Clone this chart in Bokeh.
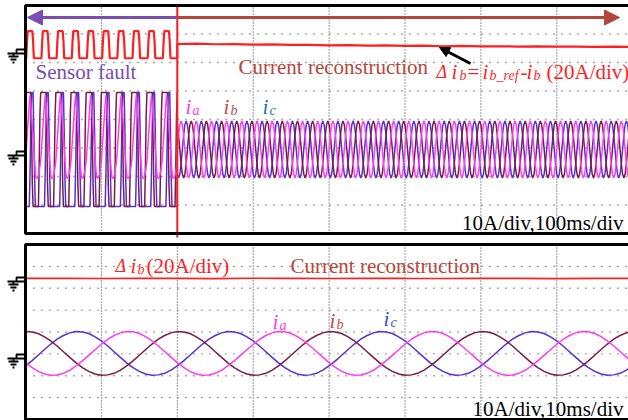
import numpy as np
from bokeh.plotting import figure
from bokeh.layouts import column
from bokeh.models import Range1d, Label, Arrow, NormalHead
from bokeh.embed import file_html
from bokeh.resources import INLINE

# ---------------- data ----------------
# top panel: 100 ms/div, currents 10 A/div, delta-ib 20 A/div
top_fault_ms = 200
top_cycle_ms = 20
# one cycle before the fault, 1 ms steps starting at t = 0 (A)
pre_ia_cycle = [-4, 0, 4, 8, 12, 16, 19, 16, 12, 8, 4, 0, -4, -8, -10, -10, -10, -9, -8, -6]
pre_ib_cycle = [20, 20, 20, 20, 20, 20, 20, 20, 6, -12, -20, -20, -20, -20, -20, -20, -20, -20, -6, 12]
pre_ic_cycle = [-20, -20, -20, -20, -20, -20, -8, 8, 20, 20, 20, 6, -10, -20, -20, -20, -20, -20, -20, -20]
pre_dib_cycle = [-4, -4, 8, 15, 15, 15, 15, 15, 15, 15, 8, -4, -4, -4, -4, -4, -4, -4, -4, -4]
# one cycle after the fault, 20/12 ms steps (A)
post_ia_cycle = [0, 5, 8.7, 10, 8.7, 5, 0, -5, -8.7, -10, -8.7, -5]
post_ib_cycle = [8.7, 5, 0, -5, -8.7, -10, -8.7, -5, 0, 5, 8.7, 10]
post_ic_cycle = [-8.7, -10, -8.7, -5, 0, 5, 8.7, 10, 8.7, 5, 0, -5]
# delta-ib after the fault (A), every 25 ms from 200 ms
post_dib_t = [200, 225, 250, 275, 300, 325, 350, 375, 400, 425, 450, 475, 500, 525,
              550, 575, 600, 625, 650, 675, 700, 725, 750, 775, 800]
post_dib = [6.0, 6.2, 5.8, 5.9, 5.5, 5.7, 5.3, 5.4, 5.0, 5.2, 4.8, 5.0, 4.6, 4.8,
            4.4, 4.6, 4.3, 4.4, 4.2, 4.3, 4.1, 4.2, 4.0, 4.1, 4.0]

# bottom panel: 10 ms/div, 15 deg samples starting at t = 0 (A)
bot_cycle_ms = 20
bot_ia_cycle = [-4.2, -6.4, -8.2, -9.4, -10.0, -9.9, -9.1, -7.7, -5.7, -3.4, -0.9, 1.7,
                4.2, 6.4, 8.2, 9.4, 10.0, 9.9, 9.1, 7.7, 5.7, 3.4, 0.9, -1.7]
bot_ib_cycle = [10.0, 9.8, 9.1, 7.6, 5.7, 3.4, 0.8, -1.8, -4.3, -6.5, -8.2, -9.4,
                -10.0, -9.8, -9.1, -7.6, -5.7, -3.4, -0.8, 1.8, 4.3, 6.5, 8.2, 9.4]
bot_ic_cycle = [-5.7, -3.4, -0.8, 1.8, 4.3, 6.5, 8.2, 9.4, 10.0, 9.8, 9.1, 7.6,
                5.7, 3.4, 0.8, -1.8, -4.3, -6.5, -8.2, -9.4, -10.0, -9.8, -9.1, -7.6]
bot_dib_t = [0, 5, 10, 15, 20, 25, 30, 35, 40, 45, 50, 55, 60, 65, 70, 75, 80]
bot_dib = [6.0, 6.2, 5.9, 6.1, 6.0, 5.8, 6.1, 6.0, 5.9, 6.2, 6.0, 5.9, 6.1, 6.0, 5.8, 6.0, 6.0]

# channel zero levels (div) and scales (A/div)
top_cur_zero, top_dib_zero = -1.05, 2.35
bot_cur_zero, bot_dib_zero = -0.98, 2.15
cur_scale, dib_scale = 10.0, 20.0

# ---------------- styling ----------------
C_A, C_B, C_C = "#ff3cf0", "#7a1c44", "#5530d8"
C_RED, C_BROWN, C_PURPLE = "#ff1f1f", "#b5473a", "#7a4cb4"
FONT = "Liberation Serif"

X0 = 25.0          # page px of t = 0
PX_DIV = 75.9      # px per time division
PAGE_W = 628
LABEL_DY = -6      # baseline correction for labels (px)


def make_panel(height, ms_div, top_px, bot_px, fig_top):
    px_ms = PX_DIV / ms_div
    div_px = (bot_px - top_px) / 8.0
    def px2x(px):
        return (px - X0) / px_ms
    def py2y(py):
        return 4 - (py - top_px) / div_px
    p = figure(width=PAGE_W, height=height, output_backend="svg", toolbar_location=None,
               x_range=Range1d(px2x(0), px2x(PAGE_W)),
               y_range=Range1d(py2y(fig_top + height), py2y(fig_top)),
               min_border=0, min_border_left=0, min_border_right=0,
               min_border_top=0, min_border_bottom=0)
    p.axis.visible = False
    p.grid.visible = False
    p.outline_line_color = None
    p.background_fill_color = "white"
    t_end = 8 * ms_div
    for k in range(1, 8):
        p.line([k * ms_div, k * ms_div], [-4, 4], line_color="#333333", line_width=1,
               line_dash="1 2")
    for k in range(-3, 4):
        p.line([0, t_end], [k, k], line_color="#555555", line_width=1.3, line_dash="1 7")
    return p, px2x, py2y


def ground(p, px2x, py2y, y0):
    xs_px = [[7, 25], [16, 16, 25], [13, 13], [8, 18], [10, 16], [12, 14]]
    ys_px = [[y0, y0], [y0, y0 - 4, y0 - 4], [y0, y0 + 3], [y0 + 3] * 2,
             [y0 + 6] * 2, [y0 + 9] * 2]
    xs = [[px2x(v) for v in seg] for seg in xs_px]
    ys = [[py2y(v) for v in seg] for seg in ys_px]
    p.multi_line(xs, ys, line_color="black", line_width=1.8)


def border(p, ms_div):
    t_end = 8 * ms_div
    p.line([t_end, 0, 0, t_end], [4, 4, -4, -4], line_color="black", line_width=3)


def label(p, conv, px, py, text, color, size=21, style="normal", align="left"):
    px2x, py2y = conv
    p.add_layout(Label(x=px2x(px), y=py2y(py + LABEL_DY), text=text, text_color=color,
                       text_font=FONT, text_font_size=f"{size}px", text_font_style=style,
                       text_baseline="alphabetic", text_align=align))


def tile(cycle, n):
    return np.concatenate([np.tile(cycle, n), [cycle[0]]])

# ---------------- top panel ----------------
top, tx, ty = make_panel(240, 100, 5.0, 233.0, 0)
T = (tx, ty)

n_pre = top_fault_ms // top_cycle_ms
t_pre = np.arange(n_pre * len(pre_ia_cycle) + 1) * (top_cycle_ms / len(pre_ia_cycle))
n_post = (800 - top_fault_ms) // top_cycle_ms
t_post = top_fault_ms + np.arange(n_post * len(post_ia_cycle) + 1) * (top_cycle_ms / len(post_ia_cycle))

for pre, post, col in [(pre_ic_cycle, post_ic_cycle, C_C), (pre_ib_cycle, post_ib_cycle, C_B),
                       (pre_ia_cycle, post_ia_cycle, C_A)]:
    t = np.concatenate([t_pre, t_post])
    v = np.concatenate([tile(pre, n_pre), tile(post, n_post)])
    top.line(t, top_cur_zero + v / cur_scale, line_color=col, line_width=1.5)

t_d = np.concatenate([t_pre, post_dib_t])
v_d = np.concatenate([tile(pre_dib_cycle, n_pre), post_dib])
top.line(t_d, top_dib_zero + v_d / dib_scale, line_color=C_RED, line_width=2.2)

top.line([top_fault_ms, top_fault_ms], [ty(237), 4], line_color=C_RED, line_width=2)
border(top, 100)
ground(top, tx, ty, 53)
ground(top, tx, ty, 155)

top.add_layout(Arrow(x_start=top_fault_ms, y_start=ty(17), x_end=tx(27), y_end=ty(17),
                     line_color=C_PURPLE, line_width=3,
                     end=NormalHead(size=15, fill_color=C_PURPLE, line_color=C_PURPLE)))
top.add_layout(Arrow(x_start=top_fault_ms, y_start=ty(17), x_end=tx(619), y_end=ty(17),
                     line_color=C_BROWN, line_width=3,
                     end=NormalHead(size=15, fill_color=C_BROWN, line_color=C_BROWN)))
top.add_layout(Arrow(x_start=tx(470), y_start=ty(63), x_end=tx(439), y_end=ty(47),
                     line_color="black", line_width=3,
                     end=NormalHead(size=10, fill_color="black", line_color="black")))

label(top, T, 35, 77, "Sensor fault", C_PURPLE)
label(top, T, 238, 72, "Current reconstruction", C_BROWN)
# delta ib formula
label(top, T, 436, 77, "\u0394", C_RED, 18, "italic")
label(top, T, 451, 77, "i", C_RED, 21, "italic")
label(top, T, 459, 81, "b", C_RED, 14, "italic")
label(top, T, 467, 77, "=", C_RED, 21)
label(top, T, 482, 77, "i", C_RED, 21, "italic")
label(top, T, 489, 81, "b_ref", C_RED, 14, "italic")
label(top, T, 520, 77, "-", C_RED, 21)
label(top, T, 526, 77, "i", C_RED, 21, "italic")
label(top, T, 533, 81, "b", C_RED, 14, "italic")
label(top, T, 546, 77, "(20A/div)", C_RED)
label(top, T, 185, 112, "i", C_A, 21, "italic")
label(top, T, 192, 116, "a", C_A, 14, "italic")
label(top, T, 223, 112, "i", "#c0504d", 21, "italic")
label(top, T, 230, 116, "b", "#c0504d", 14, "italic")
label(top, T, 262, 112, "i", "#1f6fc8", 21, "italic")
label(top, T, 269, 116, "c", "#1f6fc8", 14, "italic")
label(top, T, 623, 228, "10A/div,100ms/div", "black", 21, "normal", "right")

# ---------------- bottom panel ----------------
bot, bx, by = make_panel(180, 10, 244.0, 419.0, 240)
B = (bx, by)
n_bot = 80 // bot_cycle_ms
t_bot = np.arange(n_bot * len(bot_ia_cycle) + 1) * (bot_cycle_ms / len(bot_ia_cycle))
for cyc, col in [(bot_ic_cycle, C_C), (bot_ib_cycle, C_B), (bot_ia_cycle, C_A)]:
    bot.line(t_bot, bot_cur_zero + tile(cyc, n_bot) / cur_scale, line_color=col, line_width=1.5)
bot.line(bot_dib_t, bot_dib_zero + np.array(bot_dib) / dib_scale, line_color=C_RED, line_width=1.6)
border(bot, 10)
ground(bot, bx, by, 281)
ground(bot, bx, by, 358)

label(bot, B, 115, 271, "\u0394", C_RED, 18, "italic")
label(bot, B, 130, 271, "i", C_RED, 21, "italic")
label(bot, B, 137, 275, "b", C_RED, 14, "italic")
label(bot, B, 146, 271, "(20A/div)", C_RED)
label(bot, B, 290, 271, "Current reconstruction", C_BROWN)
label(bot, B, 272, 327, "i", C_A, 21, "italic")
label(bot, B, 279, 331, "a", C_A, 14, "italic")
label(bot, B, 329, 326, "i", "#c0504d", 21, "italic")
label(bot, B, 336, 330, "b", "#c0504d", 14, "italic")
label(bot, B, 383, 324, "i", "#3550d0", 21, "italic")
label(bot, B, 390, 328, "c", "#3550d0", 14, "italic")
label(bot, B, 623, 414, "10A/div,10ms/div", "black", 21, "normal", "right")

layout = column(top, bot, spacing=0)
open("out.html", "w").write(file_html(layout, INLINE))
